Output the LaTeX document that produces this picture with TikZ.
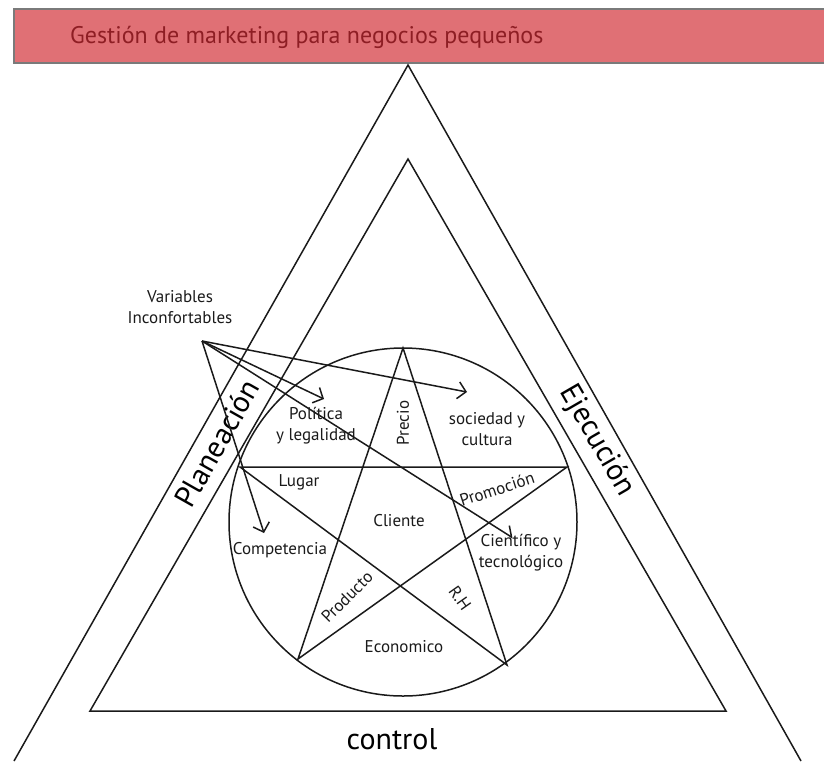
\documentclass[tikz,border=0pt]{standalone}
\usepackage{fontspec}
\setmainfont{PT Sans}
\usetikzlibrary{arrows.meta}
\definecolor{bannerfill}{HTML}{E07075}
\definecolor{bannerline}{HTML}{7A7A7A}
\definecolor{bannertext}{HTML}{8E1E24}
\definecolor{ink}{HTML}{1A1A1A}

\begin{document}
\begin{tikzpicture}[x=1pt,y=-1pt,
  edge/.style={line width=1.5pt, draw=ink},
  lbl/.style={font=\fontsize{17}{21}\selectfont, align=center, inner sep=0pt, text=ink},
  big/.style={font=\fontsize{30}{32}\selectfont, inner sep=0pt, text=black},
  pointer/.style={edge, -{Straight Barb[length=8pt,width=17pt,line width=1.5pt]}},
]
\useasboundingbox (0,0) rectangle (824,761);
\clip (0,0) rectangle (824,761);

% title banner
\node (banner) [draw=bannerline, fill=bannerfill, line width=2pt, anchor=north west,
  minimum width=830pt, minimum height=54pt, inner sep=0pt] at (13,8) {};
\node (title) [anchor=west, text=bannertext, font=\fontsize{24}{26}\selectfont, inner sep=0pt]
  at (70,37) {Gestión de marketing para negocios pequeños};

% outer and inner triangles
\coordinate (oapex) at (408,65);
\coordinate (oleft) at (14,761);
\coordinate (oright) at (801,761);
\draw[edge] (oleft) -- (oapex) -- (oright);
\coordinate (iapex) at (408,159);
\coordinate (ileft) at (90,711);
\coordinate (iright) at (726,711);
\draw[edge] (ileft) -- (iapex) -- (iright) -- cycle;

% circle with pentagram
\coordinate (ctr) at (403,522);
\draw[edge] (ctr) circle[radius=174pt];
\coordinate (ptop) at (403,348);
\coordinate (pleft) at (240,467);
\coordinate (pright) at (567,467);
\coordinate (pbl) at (298,659);
\coordinate (pbr) at (507,665);
\draw[edge] (ptop) -- (pbl) -- (pright) -- (pleft) -- (pbr) -- cycle;

% side labels
\node (plan) [big, rotate=60.5] at (217,443) {Planeación};
\node (ejec) [big, rotate=-60] at (597,441) {Ejecución};
\node (ctrl) [big] at (392,739) {control};

% region labels
\node (vars) [lbl] at (180,307) {Variables\\Inconfortables};
\node (polit) [lbl] at (316,426) {Política\\y legalidad};
\node (precio) [lbl, rotate=90] at (403,423) {Precio};
\node (soc) [lbl] at (487,429) {sociedad y\\cultura};
\node (lugar) [lbl] at (299,482) {Lugar};
\node (promo) [lbl, rotate=18] at (497,489) {Promoción};
\node (cliente) [lbl] at (399,521) {Cliente};
\node (comp) [lbl] at (280,550) {Competencia};
\node (cient) [lbl] at (521,553) {Científico y\\tecnológico};
\node (prod) [lbl, rotate=45] at (347,597) {Producto};
\node (rh) [lbl, rotate=-55] at (460,598) {R.H};
\node (econ) [lbl] at (404,647) {Economico};

% pointers from the variables label
\coordinate (src) at (202,341);
\coordinate (tpolit) at (324,399);
\coordinate (tsoc) at (467,392);
\coordinate (tcomp) at (264,533);
\coordinate (tcient) at (513,538);
\draw[pointer] (src) -- (tpolit);
\draw[pointer] (src) -- (tsoc);
\draw[pointer] (src) -- (tcomp);
\draw[edge, -{Straight Barb[length=8pt,width=17pt,line width=1.5pt,left]}] (src) -- (tcient);
\end{tikzpicture}
\end{document}
